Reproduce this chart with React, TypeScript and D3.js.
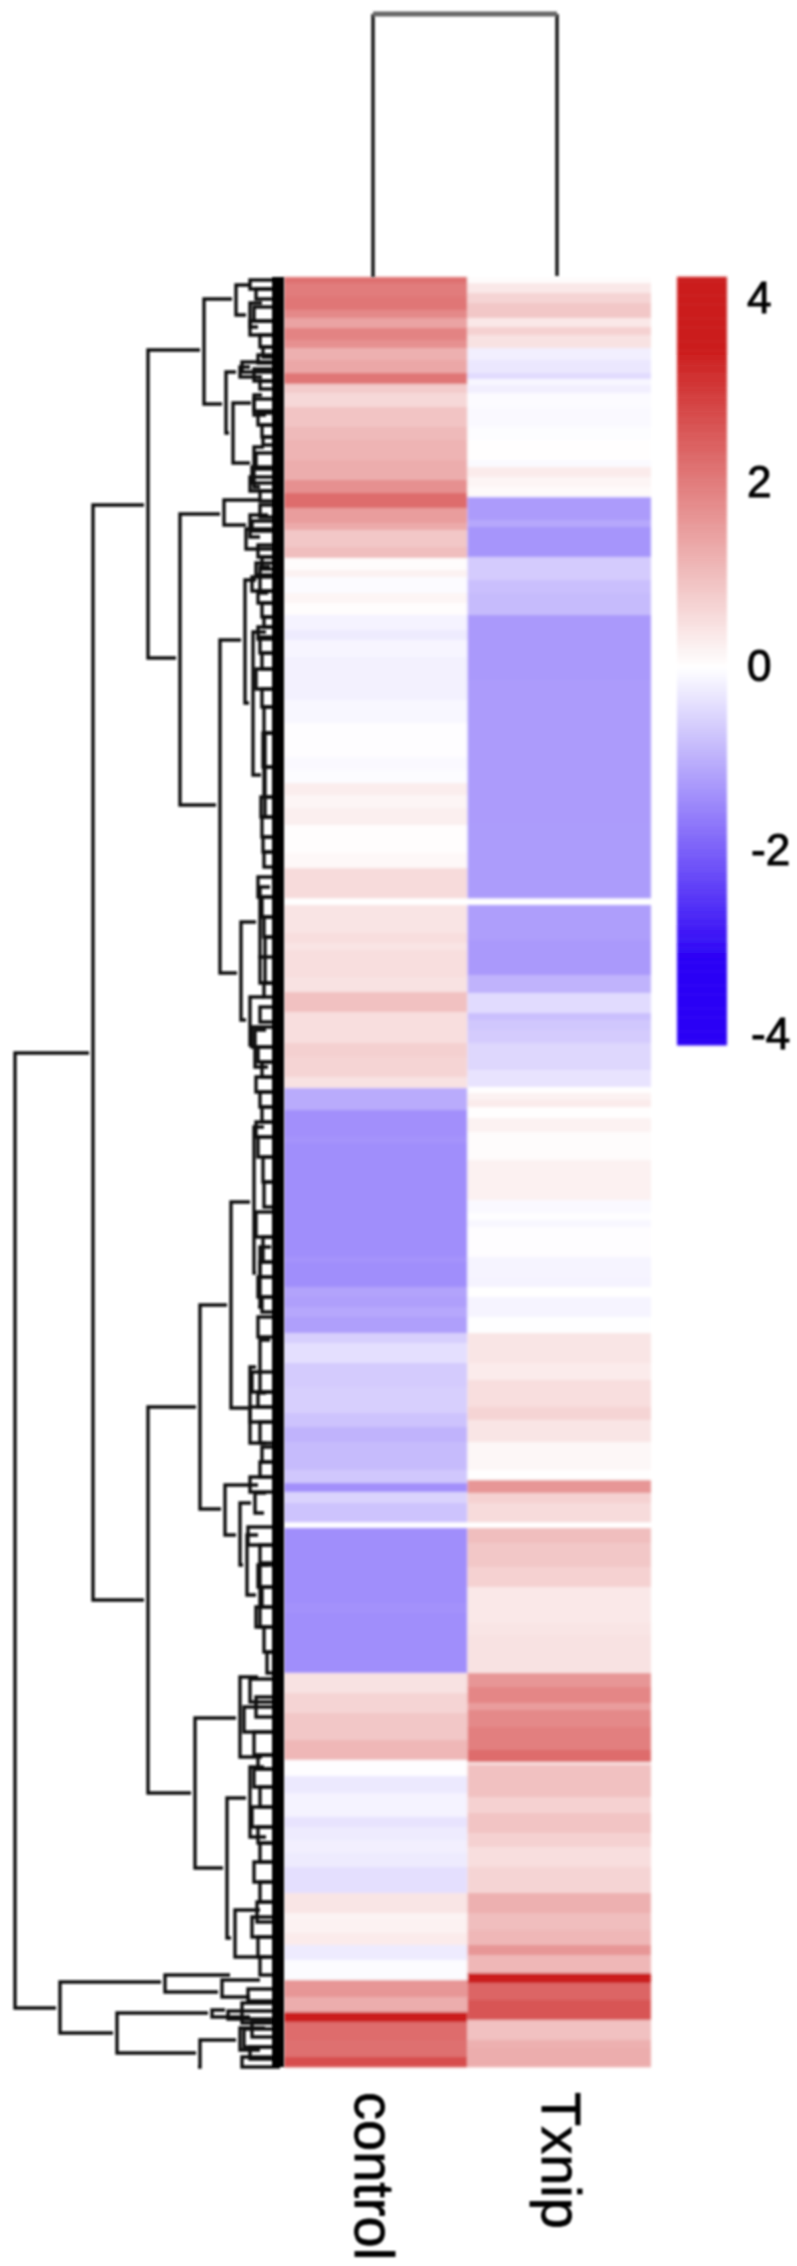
import React from "react";
import * as d3 from "d3";

const samples = ["control", "Txnip"];
const legendTicks = [4, 2, 0, -2, -4];
const totalRows = 1790;

// Each stripe: row where it ends, then its value (null = missing)
const controlEnds = [6,20,33,41,51,63,71,83,96,107,116,130,150,163,183,203,216,231,246,253,270,281,293,300,316,326,338,353,363,380,423,446,480,493,506,518,531,548,576,591,621,628,656,666,673,700,715,735,766,780,800,811,833,860,866,980,985,1010,1020,1030,1040,1056,1066,1086,1110,1136,1150,1165,1173,1193,1206,1215,1226,1245,1251,1326,1336,1396,1416,1436,1463,1483,1499,1516,1540,1550,1563,1576,1590,1616,1636,1643,1656,1668,1683,1703,1720,1735,1745,1763,1780,1790];
const controlValues = [2.2,2.0,2.1,1.8,1.4,1.9,1.7,1.2,1.35,2.1,0.8,0.6,0.9,1.05,1.15,1.25,1.7,2.25,1.5,1.3,0.85,1.0,0.05,0.2,-0.05,0.15,0.03,-0.15,-0.25,-0.12,-0.18,-0.1,-0.02,-0.08,-0.04,0.28,0.15,0.24,0.03,0.1,0.55,null,0.42,0.5,0.42,0.5,0.45,0.95,0.5,0.72,0.65,0.45,-1.05,-1.4,-1.35,-1.42,-1.35,-1.42,-1.15,-1.2,-1.1,-1.2,-0.6,-0.4,-0.65,-0.6,-0.75,-0.95,-0.85,-0.85,-0.7,-1.4,-0.55,-0.75,null,-1.42,-1.38,-1.42,0.45,0.65,0.85,1.1,-0.02,-0.28,-0.15,-0.35,-0.25,-0.2,-0.25,-0.4,0.4,0.18,0.2,0.3,-0.25,-0.04,1.6,1.25,3.8,2.25,2.2,2.7];
const txnipEnds = [6,16,26,41,50,58,71,83,96,102,108,116,130,150,163,183,190,200,210,220,243,250,280,303,316,338,403,546,621,628,663,698,716,736,743,753,766,793,810,816,823,830,841,855,883,923,936,943,950,980,1000,1010,1020,1040,1056,1086,1103,1130,1143,1165,1193,1203,1216,1226,1245,1251,1266,1290,1310,1346,1358,1396,1410,1426,1433,1450,1473,1485,1488,1520,1536,1556,1570,1590,1616,1636,1653,1668,1678,1696,1706,1723,1743,1763,1770,1790];
const txnipValues = [0.05,0.35,0.65,0.85,0.35,0.7,0.45,-0.2,-0.3,-0.45,-0.1,-0.2,-0.05,-0.07,-0.03,0.02,-0.06,0.3,0.15,0.08,-1.25,-1.1,-1.33,-0.65,-0.8,-0.85,-1.28,-1.25,-1.24,null,-1.22,-1.28,-0.95,-0.45,-0.8,-0.7,-0.65,-0.5,-0.35,0.02,0.2,0.3,0.02,0.2,0.05,0.22,-0.07,-0.01,-0.1,-0.02,-0.14,-0.15,0,-0.14,-0.01,0.4,0.3,0.5,0.65,0.4,0.12,0.02,1.6,0.7,0.55,null,1.0,0.85,0.7,0.35,0.4,0.45,1.6,1.85,1.5,1.8,1.95,2.25,0.5,0.95,0.7,0.9,0.7,0.5,0.65,1.2,1.0,1.1,1.6,1.1,3.9,2.35,2.6,0.95,1.2,1.25];

// Row dendrogram: height, row of upper child, row of lower child, upper child height, lower child height
const rowMerges = [
  [269,776,1731,191,224],[191,228,1323,136,136],[136,73,381,80,104],[80,22,127,48,58],
  [104,237,528,60,64],[64,363,696,39,43],[136,1130,1516,84,89],[84,1028,1232,53,59],
  [53,925,1131,30,32],[89,1441,1591,44,57],[224,1705,1756,119,167],[167,1736,1776,72,84],
  [84,1763,1790,44,82],[48,8,38,29,34],[34,26,50,18,22],[58,95,156,44,51],[51,126,186,29,30],
  [60,223,248,19,34],[34,238,260,12,20],[39,303,426,24,31],[24,290,316,10,12],[31,355,498,14,19],
  [19,456,540,9,12],[43,645,743,24,34],[24,610,680,10,19],[19,660,706,8,12],[34,720,768,16,29],
  [29,753,790,14,12],[30,850,996,16,24],[24,970,1030,9,22],[34,1090,1166,24,14],[24,1063,1116,10,14],
  [59,1208,1258,22,44],[44,1226,1288,29,37],[29,1216,1236,14,16],[37,1258,1318,22,24],[24,1288,1350,12,14],
  [44,1400,1480,22,18],[57,1521,1661,34,49],[34,1490,1560,16,14],[49,1633,1680,20,14],
  [119,1698,1715,50,62],[62,1703,1720,20,30],[72,1733,1740,55,30],[44,1751,1773,15,20],
  [44,90,100,30,18],[30,170,210,16,20],[30,118,138,18,14],
];
// Small clusters near the leaves: height above the leaf band, first row, last row
const fineMerges = [
  [22,3,12],[16,12,22],[18,30,44],[22,44,58],[12,58,70],[9,70,80],[14,78,86],[30,85,95],[18,92,104],[12,104,112],
  [18,122,134],[14,136,148],[10,148,160],[9,160,168],[16,176,192],[20,190,206],[22,200,214],[12,214,224],
  [12,228,240],[20,244,254],[26,252,272],[14,268,280],[10,280,292],[16,286,298],[20,300,314],[14,314,326],
  [10,326,340],[8,340,350],[14,350,362],[12,360,376],[10,376,392],[16,392,412],[10,412,430],[8,430,456],
  [9,456,490],[8,490,520],[11,520,540],[10,540,560],[9,560,575],[8,575,590],[14,600,620],[10,620,640],[8,640,660],
  [12,680,706],[8,706,720],[12,730,745],[20,750,770],[14,770,785],[10,785,800],[16,800,815],[12,815,830],
  [10,830,845],[16,845,860],[14,860,880],[9,880,905],[8,905,930],[16,935,960],[9,960,985],[12,985,1000],
  [14,1000,1020],[10,1020,1035],[14,1040,1060],[20,1095,1115],[14,1115,1130],[22,1130,1145],[12,1145,1166],
  [10,1170,1185],[12,1185,1200],[22,1200,1215],[24,1250,1268],[12,1268,1286],[14,1288,1310],[10,1310,1330],
  [16,1330,1350],[8,1350,1375],[5,1375,1396],[22,1402,1425],[16,1420,1440],[28,1430,1455],[18,1455,1478],
  [14,1478,1492],[18,1492,1510],[12,1510,1530],[20,1530,1550],[14,1550,1566],[12,1566,1585],[18,1585,1605],
  [12,1605,1625],[15,1625,1645],[20,1640,1660],[14,1660,1680],[12,1680,1698],[44,1734,1742],[30,1726,1746],
  [24,1712,1724],[20,1745,1760],[28,1752,1770],[22,1770,1782],[30,1780,1790],
];
const leafBand = 12;

const width = 797, height = 2266;
const rowY = d3.scaleLinear().domain([0, totalRows]).range([277, 2067]);
const colX = d3.scaleBand().domain(samples).range([284, 651]).paddingInner(0);
const dendX = d3.scaleLinear().domain([0, 270]).range([284, 14]);
const legendY = d3.scaleLinear().domain([4, -4]).range([297, 1033]);
const color = d3.scaleLinear<string>()
  .domain([-3.2, 0, 3.5, 9])
  .range(["#2a00f5", "#ffffff", "#cb1a1a", "#cb1a1a"])
  .clamp(true);
const legendSteps = d3.range(4.22, -4.12, -0.05);
const columnData: [string, number[], (number | null)[]][] = [
  ["control", controlEnds, controlValues],
  ["Txnip", txnipEnds, txnipValues],
];
const treeLink = (h: number, a: number, b: number, ha: number, hb: number) =>
  `M${dendX(ha)},${rowY(a)}H${dendX(h)}V${rowY(b)}H${dendX(hb)}`;
const sampleTree = [373, 557];
const tickX = (t: number) => (t < 0 ? 751 : 747);

export default function App() {
  return (
    <svg width={width} height={height} style={{ position: "absolute", left: 0, top: 0, background: "#fff" }}>
      <defs>
        <filter id="softA" filterUnits="userSpaceOnUse" x="0" y="0" width={width} height={height}>
          <feGaussianBlur stdDeviation="1.4" />
        </filter>
        <filter id="softB" filterUnits="userSpaceOnUse" x="0" y="0" width={width} height={height}>
          <feGaussianBlur stdDeviation="0.8" />
        </filter>
      </defs>
      <g filter="url(#softA)">
        {columnData.map(([name, ends, values]) => (
          <g key={name}>
            {ends.map((end, i) => {
              const v = values[i];
              const start = i === 0 ? 0 : ends[i - 1];
              if (v === null) return null;
              return (
                <rect key={i} x={colX(name)} width={colX.bandwidth()} y={rowY(start)}
                  height={rowY(end) - rowY(start) + 0.3} fill={color(v)} />
              );
            })}
          </g>
        ))}
        {legendSteps.map((z) => (
          <rect key={z} x={677} width={50} y={legendY(z)} height={legendY(z - 0.05) - legendY(z) + 0.5} fill={color(z)} />
        ))}
      </g>
      <g filter="url(#softB)">
        <g fill="none" stroke="#111" strokeWidth={3.4}>
          {rowMerges.map((m, i) => (
            <path key={i} d={treeLink(m[0], m[1], m[2], m[3] + 4, m[4] + 4)} />
          ))}
          {fineMerges.map((m, i) => (
            <path key={i} d={treeLink(m[0] + leafBand, m[1], m[2], 4, 4)} />
          ))}
        </g>
        <line x1={dendX(leafBand / 2)} x2={dendX(leafBand / 2)} y1={rowY(0)} y2={rowY(totalRows)} stroke="#000" strokeWidth={leafBand} />
        <path d={`M${sampleTree[0]},277V14`} fill="none" stroke="#222" strokeWidth={3.6} />
        <path d={`M${sampleTree[1]},276V14`} fill="none" stroke="#222" strokeWidth={3.6} />
        <path d={`M${sampleTree[0]},14H${sampleTree[1]}`} fill="none" stroke="#666" strokeWidth={5} />
        <g fontFamily="Liberation Sans" fontSize={44} fill="#000" stroke="#000" strokeWidth={1}>
          {legendTicks.map((t) => (
            <text key={t} x={tickX(t)} y={legendY(t)} dominantBaseline="central">{t}</text>
          ))}
        </g>
        <g fontFamily="Liberation Sans" fontSize={56} fill="#000" stroke="#000" strokeWidth={0.8}>
          <text transform="translate(355,2092) rotate(90)">{samples[0]}</text>
          <text transform="translate(542,2092) rotate(90)">{samples[1]}</text>
        </g>
      </g>
    </svg>
  );
}
